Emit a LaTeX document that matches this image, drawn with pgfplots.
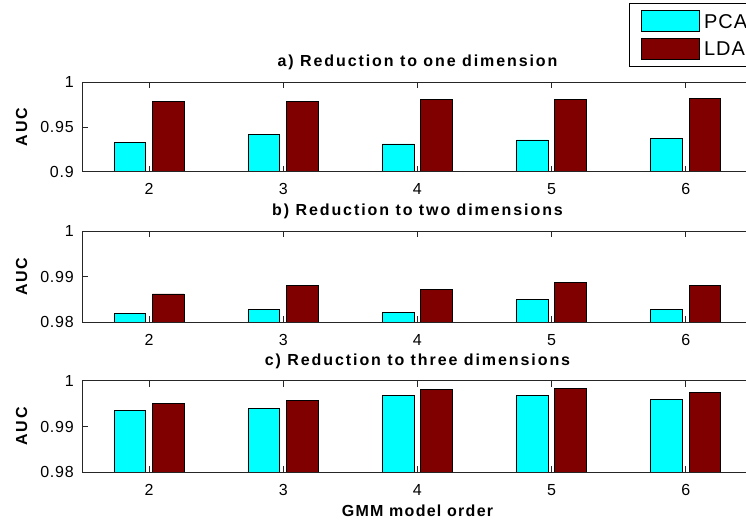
\documentclass[border=0pt]{standalone}
\usepackage{fontspec}
\setmainfont{Liberation Sans}
\newfontfamily\tickf[LetterSpace=5]{Liberation Sans}
\newfontfamily\titf[LetterSpace=12]{Liberation Sans}
\newfontfamily\labf[LetterSpace=8]{Liberation Sans}
\usepackage{pgfplots}
\pgfplotsset{compat=1.18}
\definecolor{pcac}{rgb}{0,1,1}
\definecolor{ldac}{rgb}{0.5,0,0}
\newcommand\tkfont{\tickf\fontsize{16pt}{19pt}\selectfont}
\newcommand\ttfont{\titf\bfseries\fontsize{16pt}{19pt}\selectfont}
\newcommand\lbfont{\labf\bfseries\fontsize{16pt}{19pt}\selectfont}
\newcommand\lgfont{\tickf\fontsize{20pt}{24pt}\selectfont}
\pgfplotsset{
 panel/.style={scale only axis, width=670.8pt, xmin=1.5, xmax=6.5, xtick={2,3,4,5,6},
   tick align=inside, major tick length=6pt,
   axis line style={black!85, line width=0.9pt},
   tick style={black!85, line width=0.9pt},
   axis on top, /pgf/number format/assume math mode=true,
   xticklabel style={font=\tkfont, inner sep=0pt, anchor=north, yshift=-11.6pt},
   yticklabel style={font=\tkfont, inner sep=0pt, anchor=east, xshift=-8pt},
   anchor=south west},
 pbar/.style={ybar, bar width=31.7pt, bar shift=-19.2pt, fill=pcac, draw=black, line width=0.9pt},
 lbar/.style={ybar, bar width=31.7pt, bar shift=19.2pt, fill=ldac, draw=black, line width=0.9pt},
}
\begin{document}
\begin{tikzpicture}[x=1pt,y=1pt]
\path[use as bounding box, clip] (0,0) rectangle (746,523);
% panel a
\begin{axis}[panel, at={(82pt,351.3pt)}, height=89.4pt,
  ymin=0.9, ymax=1, ytick={0.9,0.95,1}, yticklabels={0.9,0.95,1},
  legend style={at={(0.8159,1.8837)}, anchor=north west, draw=black, line width=0.9pt,
    inner xsep=11.7pt, inner ysep=6.7pt, row sep=6pt, column sep=4pt,
    nodes={inner sep=0pt, anchor=base west}, font=\lgfont},
  legend cell align=left]
\addplot[pbar, legend image code/.code={\draw[fill=pcac,draw=black,line width=0.9pt] (0pt,-3.2pt) rectangle (57.7pt,17.5pt);}]
  coordinates {(2,0.9325) (3,0.942) (4,0.931) (5,0.9355) (6,0.937)};
\addlegendentry{PCA}
\addplot[lbar, legend image code/.code={\draw[fill=ldac,draw=black,line width=0.9pt] (0pt,-3.2pt) rectangle (57.7pt,17.5pt);}]
  coordinates {(2,0.979) (3,0.979) (4,0.981) (5,0.981) (6,0.982)};
\addlegendentry{LDA}
\end{axis}
% panel b
\begin{axis}[panel, at={(82pt,200.7pt)}, height=91.3pt,
  ymin=0.98, ymax=1, ytick={0.98,0.99,1}, yticklabels={0.98,0.99,1}]
\addplot[pbar] coordinates {(2,0.9819) (3,0.9828) (4,0.9822) (5,0.9850) (6,0.9828)};
\addplot[lbar] coordinates {(2,0.9862) (3,0.9881) (4,0.9871) (5,0.9887) (6,0.9881)};
\end{axis}
% panel c
\begin{axis}[panel, at={(82pt,50.7pt)}, height=91.6pt,
  ymin=0.98, ymax=1, ytick={0.98,0.99,1}, yticklabels={0.98,0.99,1}]
\addplot[pbar] coordinates {(2,0.9934) (3,0.9940) (4,0.9968) (5,0.9968) (6,0.9959)};
\addplot[lbar] coordinates {(2,0.9950) (3,0.9956) (4,0.9980) (5,0.9984) (6,0.9975)};
\end{axis}
\node[font=\ttfont, anchor=base] at (417.5,456.5) {a) Reduction to one dimension};
\node[font=\ttfont, anchor=base] at (417.5,307.5) {b) Reduction to two dimensions};
\node[font=\ttfont, anchor=base] at (417.5,158) {c) Reduction to three dimensions};
\node[font=\lbfont, anchor=base] at (417.5,6.5) {GMM model order};
\node[font=\ttfont, rotate=90] at (21.7,396) {AUC};
\node[font=\ttfont, rotate=90] at (21.7,246.3) {AUC};
\node[font=\ttfont, rotate=90] at (21.7,96.5) {AUC};
\end{tikzpicture}
\end{document}
